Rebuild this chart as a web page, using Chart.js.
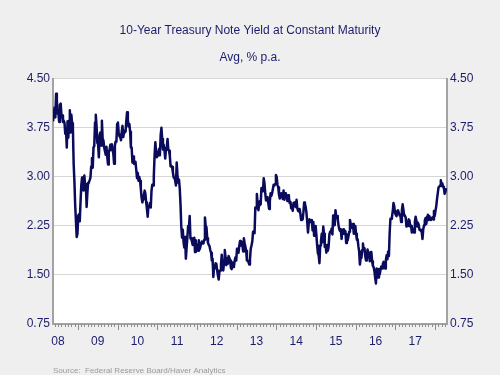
<!DOCTYPE html>
<html>
<head>
<meta charset="utf-8">
<script src="https://cdn.jsdelivr.net/npm/chart.js@4.4.1/dist/chart.umd.min.js"></script>
<style>
    html, body { margin: 0; padding: 0; background: #efefef; }
    #wrap { width: 500px; height: 375px; }
</style>
</head>
<body>
<div id="wrap"><canvas id="yieldChart" width="500" height="375"></canvas></div>
<script>
// weekly closes, % p.a.
const y2008 = [3.85, 3.85, 4.06, 3.91, 4.27, 4.17, 3.97, 3.98, 3.84, 4.10, 4.12, 3.95, 3.94, 3.84, 3.86, 3.83, 3.66,
    3.72, 3.45, 3.85, 3.60, 3.86, 4.02, 3.68, 3.95, 3.82, 3.75, 3.20, 2.93, 2.57, 2.57, 2.08, 2.13];
const y2009 = [2.41, 2.43, 2.32, 2.61, 2.87, 2.99, 2.89, 2.79, 3.02, 2.88, 2.89, 2.54, 2.76, 2.91, 2.92, 2.95, 2.99,
    3.16, 3.29, 3.14, 3.45, 3.47, 3.83, 3.95, 3.78, 3.52, 3.50, 3.30, 3.64, 3.68, 3.48, 3.86, 3.58, 3.56, 3.45, 3.45,
    3.34, 3.46, 3.31, 3.19, 3.38, 3.41, 3.49, 3.41, 3.50, 3.42, 3.35, 3.20, 3.48, 3.54, 3.54, 3.81];
const y2010 = [3.83, 3.68, 3.62, 3.61, 3.56, 3.69, 3.78, 3.61, 3.68, 3.71, 3.69, 3.86, 3.99, 3.88, 3.77, 3.81, 3.69,
    3.45, 3.45, 3.22, 3.31, 3.20, 3.23, 3.23, 3.11, 2.98, 3.06, 2.94, 3.00, 2.94, 2.82, 2.68, 2.61, 2.66, 2.72, 2.79,
    2.74, 2.61, 2.51, 2.39, 2.56, 2.56, 2.60, 2.53, 2.79, 2.88, 2.87, 3.01, 3.32, 3.53, 3.39, 3.30];
const y2011 = [3.34, 3.33, 3.43, 3.33, 3.64, 3.75, 3.58, 3.42, 3.49, 3.40, 3.28, 3.44, 3.45, 3.58, 3.41, 3.40, 3.32,
    3.16, 3.17, 3.15, 3.07, 2.99, 2.99, 2.94, 2.87, 3.22, 3.03, 2.91, 2.96, 2.82, 2.58, 2.24, 2.07, 2.19, 2.00, 1.92,
    2.08, 1.75, 1.92, 2.08, 2.25, 2.23, 2.40, 2.06, 2.06, 2.01, 1.96, 2.05, 2.07, 1.85, 2.03, 1.89];
const y2012 = [1.96, 1.87, 2.03, 1.89, 1.93, 1.99, 2.01, 1.98, 1.98, 2.04, 2.38, 2.25, 2.23, 2.06, 1.99, 1.96, 1.94,
    1.88, 1.84, 1.72, 1.75, 1.47, 1.64, 1.60, 1.68, 1.67, 1.57, 1.49, 1.43, 1.55, 1.57, 1.66, 1.81, 1.69, 1.57, 1.68,
    1.88, 1.77, 1.65, 1.75, 1.67, 1.79, 1.76, 1.72, 1.61, 1.59, 1.69, 1.62, 1.63, 1.72, 1.77, 1.72];
const y2013 = [1.90, 1.87, 1.84, 1.95, 2.02, 1.95, 2.01, 1.97, 1.86, 2.06, 1.99, 1.93, 1.87, 1.72, 1.72, 1.70, 1.66,
    1.74, 1.90, 1.95, 2.01, 2.16, 2.17, 2.14, 2.53, 2.52, 2.74, 2.59, 2.49, 2.57, 2.63, 2.58, 2.83, 2.82, 2.78, 2.98,
    2.90, 2.75, 2.64, 2.65, 2.69, 2.60, 2.51, 2.62, 2.75, 2.71, 2.75, 2.75, 2.88, 2.87, 2.89, 3.03];
const y2014 = [3.00, 2.88, 2.84, 2.73, 2.67, 2.70, 2.75, 2.74, 2.66, 2.79, 2.65, 2.75, 2.73, 2.72, 2.63, 2.72, 2.68,
    2.60, 2.62, 2.52, 2.54, 2.48, 2.60, 2.61, 2.61, 2.54, 2.65, 2.52, 2.48, 2.47, 2.51, 2.44, 2.34, 2.40, 2.35, 2.46,
    2.61, 2.59, 2.54, 2.45, 2.31, 2.15, 2.29, 2.35, 2.31, 2.32, 2.34, 2.18, 2.31, 2.10, 2.17, 2.25];
const y2015 = [2.11, 1.95, 1.83, 1.80, 1.68, 1.95, 2.02, 2.13, 2.00, 2.24, 2.13, 1.93, 1.96, 1.84, 1.96, 1.87, 1.93,
    2.12, 2.16, 2.15, 2.21, 2.12, 2.41, 2.39, 2.26, 2.49, 2.38, 2.40, 2.35, 2.26, 2.20, 2.17, 2.20, 2.05, 2.19, 2.13,
    2.20, 2.13, 2.17, 1.99, 2.12, 2.03, 2.09, 2.16, 2.34, 2.28, 2.26, 2.22, 2.28, 2.13, 2.20, 2.25];
const y2016 = [2.13, 2.04, 2.05, 1.94, 1.86, 1.66, 1.76, 1.76, 1.88, 1.98, 1.88, 1.91, 1.79, 1.72, 1.75, 1.89, 1.83,
    1.79, 1.71, 1.85, 1.85, 1.71, 1.64, 1.62, 1.56, 1.46, 1.37, 1.60, 1.57, 1.46, 1.59, 1.51, 1.58, 1.63, 1.60, 1.67,
    1.70, 1.62, 1.60, 1.73, 1.80, 1.74, 1.86, 1.79, 2.15, 2.36, 2.36, 2.39, 2.47, 2.60, 2.55, 2.45];
const y2017 = [2.42, 2.40, 2.48, 2.49, 2.49, 2.41, 2.42, 2.31, 2.49, 2.58, 2.50, 2.41, 2.40, 2.38, 2.24, 2.25, 2.29,
    2.35, 2.33, 2.24, 2.25, 2.15, 2.21, 2.16, 2.15, 2.31, 2.39, 2.33, 2.24, 2.30, 2.27, 2.19, 2.19, 2.17, 2.16, 2.05,
    2.20, 2.26, 2.33, 2.37, 2.28, 2.39, 2.42, 2.34, 2.40, 2.35, 2.34, 2.37, 2.38, 2.35, 2.48, 2.40];
const y2018 = [2.48, 2.55, 2.66, 2.66, 2.84, 2.85, 2.87, 2.95, 2.86, 2.90, 2.85, 2.83, 2.74, 2.77, 2.83];

const years = [2008, 2009, 2010, 2011, 2012, 2013, 2014, 2015, 2016, 2017, 2018];
const seriesByYear = [y2008, y2009, y2010, y2011, y2012, y2013, y2014, y2015, y2016, y2017, y2018];
const startWeek = [19, 0, 0, 0, 0, 0, 0, 0, 0, 0, 0];   // series begins mid-May 2008
const yearLabels = ['08', '09', '10', '11', '12', '13', '14', '15', '16', '17'];
const yTicks = [0.75, 1.50, 2.25, 3.00, 3.75, 4.50];

const navy = '#1c1c6c';
const points = [];
years.forEach((yr, k) => {
    seriesByYear[k].forEach((v, i) => {
        points.push({ x: yr + (startWeek[k] + i + 0.5) / 52, y: v });
    });
});

// white plot area on grey page
const plotBg = {
    id: 'plotBg',
    beforeDraw(chart) {
        const { ctx, chartArea: a } = chart;
        ctx.save();
        ctx.fillStyle = '#ffffff';
        ctx.fillRect(a.left, a.top, a.right - a.left, a.bottom - a.top);
        ctx.restore();
    }
};

// monthly tick marks, longer at year boundaries, plus the source note
const monthTicks = {
    id: 'monthTicks',
    afterDraw(chart) {
        const { ctx, chartArea: a } = chart;
        const xs = chart.scales.x;
        ctx.save();
        ctx.strokeStyle = '#8c8c8c';
        ctx.lineWidth = 1;
        for (let m = Math.ceil(xs.min * 12); m <= xs.max * 12; m++) {
            const px = Math.round(xs.getPixelForValue(m / 12)) + 0.5;
            const len = (m % 12 === 0) ? 6 : 3;
            ctx.beginPath();
            ctx.moveTo(px, a.bottom);
            ctx.lineTo(px, a.bottom + len);
            ctx.stroke();
        }
        ctx.fillStyle = '#9a9a9a';
        ctx.font = '8px Arial, "Liberation Sans", sans-serif';
        ctx.textBaseline = 'middle';
        ctx.fillText('Source:  Federal Reserve Board/Haver Analytics', a.left, 371);
        ctx.restore();
    }
};

const tickFont = { family: 'Arial, "Liberation Sans", sans-serif', size: 12 };

new Chart(document.getElementById('yieldChart'), {
    type: 'line',
    data: {
        datasets: [{
            data: points,
            borderColor: '#0b0b5c',
            borderWidth: 2.5,
            pointRadius: 0,
            tension: 0,
            borderJoinStyle: 'round',
            yAxisID: 'y'
        }]
    },
    options: {
        responsive: false,
        animation: false,
        layout: { padding: { left: 0, right: 0, top: 0, bottom: 0 } },
        plugins: {
            legend: { display: false },
            tooltip: { enabled: false },
            title: {
                display: true,
                text: '10-Year Treasury Note Yield at Constant Maturity',
                color: navy,
                font: { family: tickFont.family, size: 12, weight: 'normal' },
                padding: { top: 23, bottom: 13 }
            },
            subtitle: {
                display: true,
                text: 'Avg, % p.a.',
                color: navy,
                font: { family: tickFont.family, size: 12, weight: 'normal' },
                padding: { top: 0, bottom: 14 }
            }
        },
        scales: {
            x: {
                type: 'linear',
                min: 2008.374,
                max: 2018.30,
                grid: { display: false },
                border: { display: true, color: '#a3a3a3', width: 2 },
                afterBuildTicks: scale => {
                    scale.ticks = yearLabels.map((l, i) => ({ value: 2008.5 + i }));
                },
                afterFit: scale => { scale.height = 51; },
                ticks: {
                    color: navy,
                    font: tickFont,
                    autoSkip: false,
                    maxRotation: 0,
                    padding: 2,
                    callback: (v, i) => yearLabels[i]
                }
            },
            y: {
                position: 'left',
                min: 0.75,
                max: 4.5,
                grid: { color: '#d6d6d6', lineWidth: 1, drawTicks: false },
                border: { display: true, color: '#a3a3a3', width: 2 },
                afterBuildTicks: scale => { scale.ticks = yTicks.map(v => ({ value: v })); },
                afterFit: scale => { scale.width = 53; },
                ticks: {
                    color: navy,
                    font: tickFont,
                    padding: 3,
                    callback: v => v.toFixed(2)
                }
            },
            yRight: {
                position: 'right',
                display: true,
                min: 0.75,
                max: 4.5,
                grid: { drawOnChartArea: false, drawTicks: false },
                border: { display: true, color: '#a3a3a3', width: 2 },
                afterBuildTicks: scale => { scale.ticks = yTicks.map(v => ({ value: v })); },
                afterFit: scale => { scale.width = 53; },
                ticks: {
                    color: navy,
                    font: tickFont,
                    padding: 3,
                    callback: v => v.toFixed(2)
                }
            }
        }
    },
    plugins: [plotBg, monthTicks]
});
</script>
</body>
</html>
